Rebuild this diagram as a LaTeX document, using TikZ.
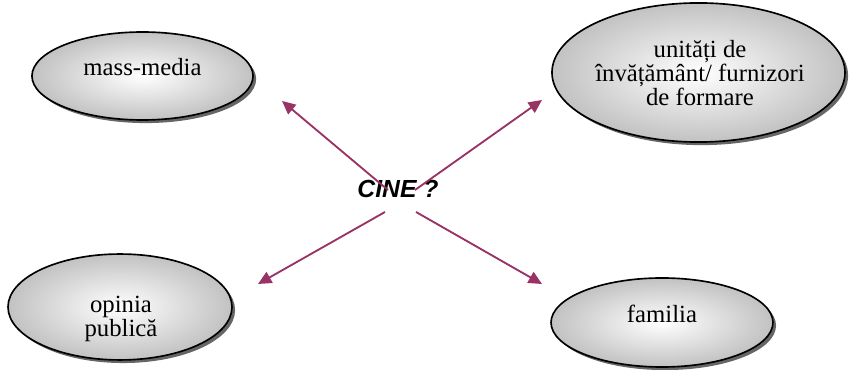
\documentclass[tikz,border=0pt]{standalone}
\usepackage{fontspec}
\setmainfont{Liberation Serif}
\newfontfamily\arialfont{Liberation Sans}
\usetikzlibrary{arrows.meta,shapes.geometric,shadows}
\definecolor{plum}{HTML}{993366}

\begin{document}
\begin{tikzpicture}[x=0.4853pt,y=-0.4853pt,
	oval/.style={ellipse,draw=black,line width=0.8pt,inner sep=0pt,
		inner color=white,outer color=black!24,
		drop shadow={shadow xshift=1.5pt,shadow yshift=-1.5pt,fill=black,opacity=0.6}},
	lbl/.style={font=\fontsize{12}{11.7}\selectfont,align=center,inner sep=0pt},
	arr/.style={-{Triangle[length=6.5pt,width=6pt]},draw=plum,line width=0.9pt}]
		%%%%% START %%%%%
		
		\useasboundingbox (0,0) rectangle (849,370);
		
		\node[oval,minimum width=107.3pt,minimum height=42.7pt] (media) at (142.5,76) {};
		\node[lbl,anchor=base] (mediatxt) at (142.5,76) {mass-media};
		
		\node[oval,minimum width=142.2pt,minimum height=67.5pt] (scoala) at (698.5,72.5) {};
		\node[lbl] (scoalatxt) at (700,73) {unități de\\învățământ/ furnizori\\de formare};
		
		\node[oval,minimum width=108.7pt,minimum height=51.4pt] (opinia) at (120,307) {};
		\node[lbl] (opiniatxt) at (121,319) {opinia\\publică};
		
		\node[oval,minimum width=107.7pt,minimum height=43.2pt] (familia) at (662,322.5) {};
		\node[lbl,anchor=base] (familiatxt) at (662,323) {familia};
		
		\node[font=\arialfont\bfseries\itshape\fontsize{12}{14}\selectfont,inner sep=0pt,anchor=base] (cine) at (398,198) {CINE ?};
		
		% capetele sagetilor
		\coordinate (s1) at (388,190);
		\coordinate (t1) at (282,101);
		\coordinate (s2) at (415,190);
		\coordinate (t2) at (542,100);
		\coordinate (s3) at (385,212);
		\coordinate (t3) at (258,284);
		\coordinate (s4) at (416,212);
		\coordinate (t4) at (542,284);
		
		\draw[arr] (s1) -- (t1);
		\draw[arr] (s2) -- (t2);
		\draw[arr] (s3) -- (t3);
		\draw[arr] (s4) -- (t4);
		
		%%%%% END %%%%%
\end{tikzpicture}
\end{document}
